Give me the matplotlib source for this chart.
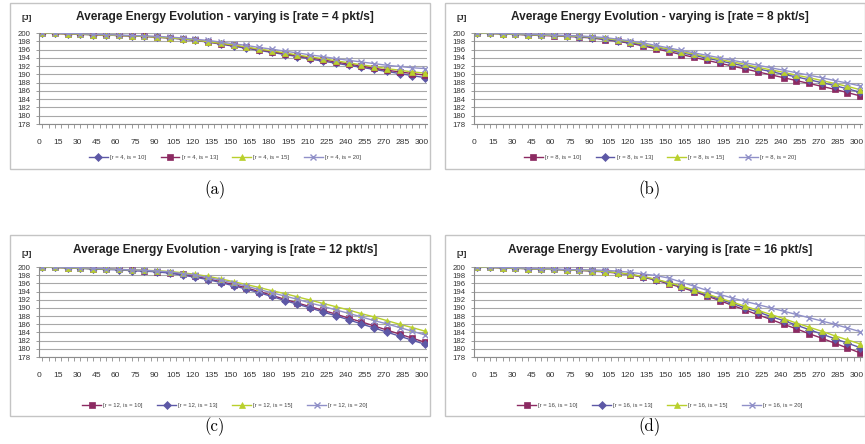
import matplotlib
matplotlib.use("Agg")
import matplotlib.pyplot as plt
from matplotlib.patches import Rectangle
from matplotlib.transforms import ScaledTranslation

W, H = 865, 444

# time axis (s), one sample every 10 s
times = list(range(0, 301, 10))
x_ticks = list(range(0, 301, 15))
y_ticks = list(range(178, 201, 2))

# (a) rate = 4 pkt/s
a_is10 = [200.0, 199.9, 199.8, 199.7, 199.6, 199.5, 199.4, 199.3, 199.2, 199.0, 198.8, 198.5, 198.2, 197.8, 197.3, 196.8,
          196.3, 195.8, 195.3, 194.8, 194.3, 193.7, 193.2, 192.7, 192.2, 191.7, 191.2, 190.7, 190.2, 189.7, 189.2]
a_is13 = [200.0, 199.9, 199.8, 199.7, 199.6, 199.5, 199.4, 199.3, 199.2, 199.0, 198.8, 198.6, 198.3, 197.9, 197.4, 197.0,
          196.5, 196.0, 195.5, 195.0, 194.5, 194.0, 193.5, 193.0, 192.5, 192.0, 191.5, 191.0, 190.6, 190.2, 189.8]
a_is15 = [200.0, 199.9, 199.8, 199.7, 199.6, 199.5, 199.4, 199.3, 199.2, 199.0, 198.8, 198.6, 198.3, 197.9, 197.5, 197.1,
          196.6, 196.1, 195.7, 195.2, 194.7, 194.2, 193.8, 193.3, 192.8, 192.3, 191.9, 191.4, 191.0, 190.6, 190.3]
a_is20 = [200.1, 200.0, 199.9, 199.8, 199.7, 199.6, 199.5, 199.4, 199.3, 199.2, 199.0, 198.8, 198.5, 198.2, 197.8, 197.4,
          197.0, 196.5, 196.1, 195.6, 195.2, 194.7, 194.3, 193.8, 193.4, 193.0, 192.6, 192.2, 191.9, 191.6, 191.4]

# (b) rate = 8 pkt/s
b_is10 = [200.0, 199.9, 199.8, 199.7, 199.5, 199.4, 199.3, 199.2, 199.0, 198.8, 198.4, 198.0, 197.5, 196.9, 196.2, 195.5,
          194.8, 194.1, 193.4, 192.7, 192.0, 191.3, 190.6, 189.9, 189.2, 188.5, 187.8, 187.1, 186.4, 185.6, 184.8]
b_is13 = [200.0, 199.9, 199.8, 199.7, 199.6, 199.5, 199.4, 199.3, 199.1, 198.9, 198.5, 198.1, 197.7, 197.1, 196.5, 195.9,
          195.2, 194.6, 193.9, 193.3, 192.6, 192.0, 191.3, 190.7, 190.0, 189.4, 188.7, 188.0, 187.3, 186.5, 185.7]
b_is15 = [200.0, 199.9, 199.8, 199.7, 199.6, 199.5, 199.4, 199.3, 199.2, 199.0, 198.7, 198.3, 197.9, 197.3, 196.7, 196.1,
          195.5, 194.9, 194.2, 193.6, 193.0, 192.4, 191.7, 191.1, 190.5, 189.8, 189.2, 188.5, 187.8, 187.1, 186.3]
b_is20 = [200.1, 200.0, 199.9, 199.8, 199.7, 199.6, 199.5, 199.4, 199.3, 199.1, 198.9, 198.5, 198.1, 197.6, 197.0, 196.4,
          195.8, 195.2, 194.6, 194.0, 193.4, 192.8, 192.2, 191.6, 191.0, 190.4, 189.8, 189.2, 188.5, 187.9, 187.2]

# (c) rate = 12 pkt/s
c_is10 = [200.0, 199.9, 199.8, 199.7, 199.6, 199.5, 199.4, 199.2, 199.1, 198.9, 198.6, 198.2, 197.7, 197.1, 196.4, 195.7,
          194.9, 194.0, 193.1, 192.1, 191.2, 190.3, 189.4, 188.5, 187.5, 186.6, 185.6, 184.6, 183.6, 182.6, 181.6]
c_is13 = [200.0, 199.9, 199.8, 199.7, 199.5, 199.4, 199.3, 199.1, 199.0, 198.8, 198.5, 198.0, 197.5, 196.9, 196.2, 195.4,
          194.6, 193.7, 192.8, 191.8, 190.9, 190.0, 189.0, 188.1, 187.1, 186.1, 185.1, 184.1, 183.1, 182.1, 181.1]
c_is15 = [200.0, 199.9, 199.8, 199.7, 199.6, 199.5, 199.4, 199.3, 199.2, 199.1, 198.9, 198.6, 198.2, 197.7, 197.1, 196.4,
          195.7, 195.0, 194.2, 193.5, 192.7, 191.9, 191.1, 190.3, 189.5, 188.6, 187.8, 186.9, 186.0, 185.2, 184.3]
c_is20 = [200.1, 200.0, 199.9, 199.8, 199.7, 199.6, 199.4, 199.3, 199.2, 199.0, 198.8, 198.4, 198.0, 197.4, 196.8, 196.1,
          195.3, 194.5, 193.7, 192.9, 192.1, 191.2, 190.4, 189.5, 188.7, 187.8, 186.9, 186.1, 185.2, 184.3, 183.4]

# (d) rate = 16 pkt/s
d_is10 = [200.0, 199.9, 199.8, 199.7, 199.6, 199.5, 199.4, 199.3, 199.2, 199.0, 198.8, 198.5, 198.1, 197.5, 196.8, 195.9,
          195.0, 194.0, 192.9, 191.8, 190.6, 189.5, 188.3, 187.2, 186.0, 184.9, 183.7, 182.6, 181.4, 180.2, 179.0]
d_is13 = [200.0, 199.9, 199.8, 199.7, 199.6, 199.5, 199.4, 199.3, 199.2, 199.1, 198.9, 198.6, 198.2, 197.6, 196.9, 196.1,
          195.2, 194.2, 193.2, 192.1, 191.1, 190.0, 189.0, 187.9, 186.9, 185.8, 184.7, 183.6, 182.5, 181.4, 180.3]
d_is15 = [200.0, 199.9, 199.8, 199.7, 199.6, 199.5, 199.4, 199.3, 199.2, 199.1, 198.9, 198.6, 198.2, 197.7, 197.0, 196.2,
          195.3, 194.4, 193.4, 192.4, 191.4, 190.4, 189.4, 188.4, 187.4, 186.3, 185.3, 184.3, 183.2, 182.2, 181.2]
d_is20 = [200.1, 200.0, 199.9, 199.8, 199.7, 199.6, 199.5, 199.4, 199.3, 199.3, 199.2, 199.0, 198.7, 198.3, 197.9, 197.3,
          196.3, 195.3, 194.3, 193.3, 192.4, 191.6, 190.8, 190.0, 189.2, 188.4, 187.6, 186.8, 186.0, 185.1, 184.2]

# series styles (colour, marker)
S_DIAM = ("#5d58a6", "D")
S_SQR = ("#8c2a62", "s")
S_TRI = ("#b9d02c", "^")
S_X = ("#9090c8", "x")

panels = [
    dict(rate=4, dx=0, dy=0, tag="(a)",
         series=[(10, a_is10, S_DIAM), (13, a_is13, S_SQR), (15, a_is15, S_TRI), (20, a_is20, S_X)]),
    dict(rate=8, dx=435, dy=0, tag="(b)",
         series=[(10, b_is10, S_SQR), (13, b_is13, S_DIAM), (15, b_is15, S_TRI), (20, b_is20, S_X)]),
    dict(rate=12, dx=0, dy=1, tag="(c)",
         series=[(10, c_is10, S_SQR), (13, c_is13, S_DIAM), (15, c_is15, S_TRI), (20, c_is20, S_X)]),
    dict(rate=16, dx=435, dy=1, tag="(d)",
         series=[(10, d_is10, S_SQR), (13, d_is13, S_DIAM), (15, d_is15, S_TRI), (20, d_is20, S_X)]),
]

# vertical layout in pixels for top and bottom rows
rows = [
    dict(frame=(3, 169), ax=(33, 124), title=17, unit=19, legend=157, caption=190),
    dict(frame=(235, 416), ax=(267, 357), title=250, unit=254, legend=405, caption=427),
]

plt.rcParams['font.family'] = ['Liberation Sans', 'DejaVu Sans']

fig = plt.figure(figsize=(W / 100, H / 100), dpi=100)


def fx(px):
    return px / W


def fy(py):
    return 1 - py / H


# Excel puts the category labels a touch left of the points
label_shift = ScaledTranslation(-3 / 100, 0, fig.dpi_scale_trans)

for p in panels:
    r = rows[p["dy"]]
    dx = p["dx"]

    # frame round the chart
    ft, fb = r["frame"]
    fig.patches.append(Rectangle((fx(dx + 10), fy(fb)), fx(420), (fb - ft) / H,
                                 transform=fig.transFigure, fill=False,
                                 edgecolor="#c4c4c4", lw=1.0))

    at, ab = r["ax"]
    ax = fig.add_axes([fx(dx + 39), fy(ab), fx(388), (ab - at) / H])
    for is_val, vals, (col, mk) in p["series"]:
        ax.plot(times, vals, color=col, marker=mk, lw=1.0,
                ms=4.3 if mk != "x" else 4.5, mew=1.0 if mk == "x" else 0.5,
                label="[r = %d, is = %d]" % (p["rate"], is_val))

    ax.set_xlim(-2.5, 301.5)
    ax.set_ylim(178, 200)
    ax.set_xticks(x_ticks)
    ax.set_xticks(range(0, 301, 5), minor=True)
    ax.set_yticks(y_ticks)
    ax.grid(axis="y", color="#a8a8a8", lw=0.8)
    ax.set_axisbelow(True)
    for s in ["top", "right"]:
        ax.spines[s].set_visible(False)
    for s in ["left", "bottom"]:
        ax.spines[s].set_color("#8c8c8c")
        ax.spines[s].set_linewidth(0.8)
    ax.tick_params(axis="x", which="both", direction="out", length=3, width=0.6,
                   color="#8c8c8c", labelsize=6.1, labelcolor="#333333", pad=8)
    ax.tick_params(axis="y", direction="out", length=2, width=0.6,
                   color="#8c8c8c", labelsize=5.6, labelcolor="#333333", pad=4)
    for lab in ax.get_xticklabels():
        lab.set_transform(lab.get_transform() + label_shift)

    fig.text(fx(dx + 225), fy(r["title"]), "Average Energy Evolution - varying is [rate = %d pkt/s]" % p["rate"],
             ha="center", va="center", fontsize=8.6, fontweight="bold", color="#222222")
    fig.text(fx(dx + 27), fy(r["unit"]), "[J]", ha="center", va="center",
             fontsize=6, fontweight="bold", color="#222222")

    fig.legend(*ax.get_legend_handles_labels(), loc="center", ncol=4, frameon=False,
               bbox_to_anchor=(fx(dx + 225), fy(r["legend"])), fontsize=4.2,
               handlelength=3.2, columnspacing=2.5, handletextpad=0.4,
               labelcolor="#444444")

    fig.text(fx(dx + 215), fy(r["caption"]), p["tag"], ha="center", va="center",
             fontsize=12, family="cmr10")

fig.savefig("out.png", dpi=100)
